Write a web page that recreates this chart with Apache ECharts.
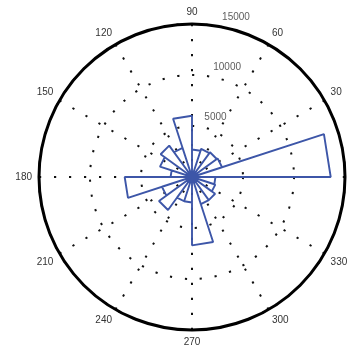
<!DOCTYPE html>
<html>
<head>
<meta charset="utf-8">
<script src="https://cdn.jsdelivr.net/npm/echarts@6/dist/echarts.min.js"></script>
<style>
html,body{margin:0;padding:0;background:#fff;}
#chart{width:356px;height:352px;}
</style>
</head>
<body>
<div id="chart"></div>
<script>
// Rose (polar histogram) data: 20 bins of 18 degrees
const binStartAngles = [0,18,36,54,72,90,108,126,144,162,180,198,216,234,252,270,288,306,324,342];
const binWidth = 18;
const binCounts = [13600,3100,3000,2900,2700,6000,3000,3800,3300,2100,6600,3100,4000,2500,2500,6700,2800,2800,2400,2300];
const radiusTicks = [5000,10000,15000];
const angleTicks = [30,60,90,120,150,180,210,240,270,300,330];

const roseData = [];
binStartAngles.forEach((a0, i) => {
  const a1 = a0 + binWidth;
  const v = binCounts[i];
  roseData.push([0, a0], [v, a0], [v, a1], [0, a1]);
});

const chart = echarts.init(document.getElementById('chart'), null, {renderer: 'canvas'});
const dotted = {color: '#111', width: 2, type: [2.2, 12.8], cap: 'butt'};
chart.setOption({
  backgroundColor: '#fff',
  animation: false,
  polar: {center: [192, 177], radius: 153},
  angleAxis: {
    type: 'value', min: 0, max: 360, interval: 30,
    startAngle: 0, clockwise: false,
    axisLine: {show: true, lineStyle: {color: '#000', width: 3}},
    axisTick: {show: false},
    splitLine: {show: true, lineStyle: dotted},
    axisLabel: {
      show: true, margin: 7, color: '#333', fontSize: 10, fontFamily: 'Liberation Sans, Arial, sans-serif',
      formatter: v => angleTicks.indexOf(v) >= 0 ? String(v) : ''
    }
  },
  radiusAxis: {
    type: 'value', min: 0, max: 15000, interval: 5000,
    axisLine: {show: false}, axisTick: {show: false}, axisLabel: {show: false},
    splitLine: {show: true, lineStyle: dotted}
  },
  series: [
    {
      type: 'line', coordinateSystem: 'polar', data: roseData,
      symbol: 'none', smooth: false, z: 3,
      lineStyle: {color: '#3d56a8', width: 1.9}
    },
    {
      type: 'scatter', coordinateSystem: 'polar', symbolSize: 0, z: 4,
      data: radiusTicks.map(r => [r, 80]),
      label: {
        show: true, position: [3.5, -4.5], align: 'left', verticalAlign: 'bottom',
        color: '#333', fontSize: 10, fontFamily: 'Liberation Sans, Arial, sans-serif',
        formatter: p => String(p.value[0])
      }
    }
  ]
});
</script>
</body>
</html>
